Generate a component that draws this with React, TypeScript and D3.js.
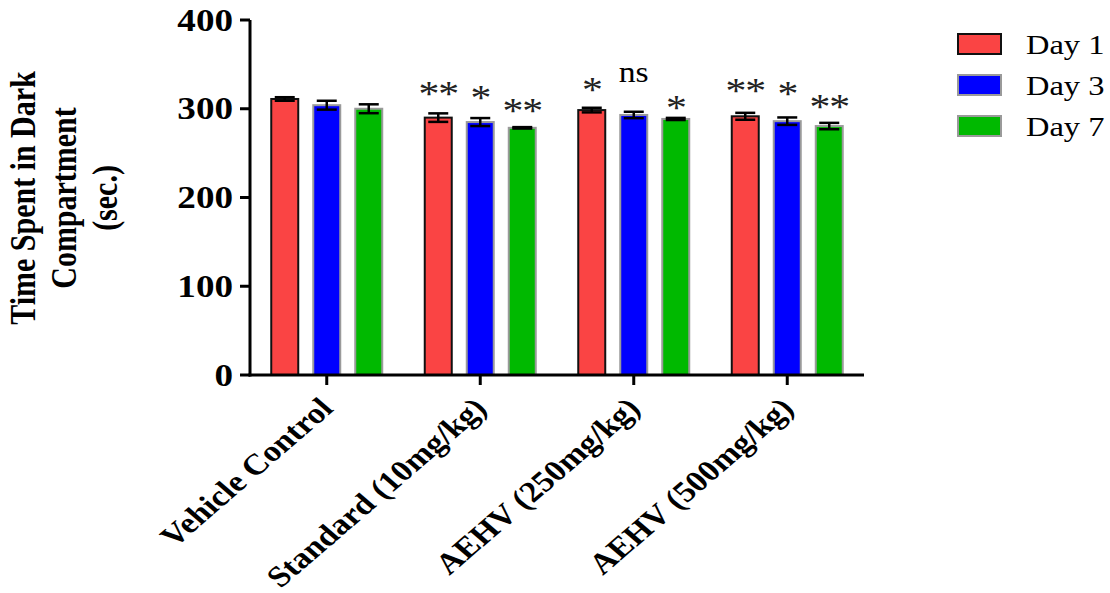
import React from "react";
import * as d3 from "d3";

const categories = ["Vehicle Control", "Standard (10mg/kg)", "AEHV (250mg/kg)", "AEHV (500mg/kg)"];
const days = ["Day 1", "Day 3", "Day 7"];
const day1 = [311, 290, 298.5, 291.5];
const day3 = [304, 285, 293, 286];
const day7 = [300, 278.5, 288.5, 280.5];
const err1 = [2, 4.8, 2.6, 3.9];
const err3 = [5, 4.5, 3.6, 4.2];
const err7 = [5, 0.8, 1.2, 3.6];
// significance labels per category / day, with the value level where each is printed
const sigLabels = [
  ["", "", ""],
  ["**", "*", "**"],
  ["*", "ns", "*"],
  ["**", "*", "**"],
];
const sigLevels = [
  [0, 0, 0],
  [324.5, 320, 305],
  [328.5, 338, 308.5],
  [327.5, 324.5, 310],
];
const yTicks = [0, 100, 200, 300, 400];

const values = [day1, day3, day7];
const errors = [err1, err3, err7];
const fills = ["#FA4444", "#0000FF", "#00B900"];
const strokes = ["#111111", "#9a9a9a", "#9a9a9a"];

const SX = 1.16; // horizontal stretch of the original picture's text
const serif = "'Liberation Serif', 'Times New Roman', serif";

export default function App() {
  const W = 1110, H = 593;
  const x = d3.scaleBand<string>().domain(categories).range([250, 864]).padding(0);
  const inner = d3.scalePoint<string>().domain(days).range([-42, 42]);
  const y = d3.scaleLinear().domain([0, 400]).range([375, 20]);
  const barW = 27;
  const cap = 10;

  const st = (tx: number, ty: number, extra = "") => `translate(${tx},${ty}) scale(${SX},1) ${extra}`;

  return (
    <svg width={W} height={H} style={{ position: "absolute", left: 0, top: 0, background: "#fff" }}>
      {/* bars */}
      {categories.map((c, ci) =>
        days.map((dname, di) => {
          const cx = (x(c) as number) + x.bandwidth() / 2 + (inner(dname) as number);
          const v = values[di][ci];
          return (
            <rect key={`b${ci}-${di}`} x={cx - barW / 2} y={y(v)} width={barW} height={y(0) - y(v)}
              fill={fills[di]} stroke={strokes[di]} strokeWidth={2} />
          );
        })
      )}
      {/* error bars */}
      {categories.map((c, ci) =>
        days.map((dname, di) => {
          const cx = (x(c) as number) + x.bandwidth() / 2 + (inner(dname) as number);
          const v = values[di][ci];
          const e = errors[di][ci];
          return (
            <g key={`e${ci}-${di}`} stroke="#000" strokeWidth={2.5}>
              <line x1={cx} x2={cx} y1={y(v + e)} y2={y(v - e)} />
              <line x1={cx - cap} x2={cx + cap} y1={y(v + e)} y2={y(v + e)} />
              <line x1={cx - cap} x2={cx + cap} y1={y(v - e)} y2={y(v - e)} />
            </g>
          );
        })
      )}
      {/* significance */}
      {categories.map((c, ci) =>
        days.map((dname, di) => {
          const lab = sigLabels[ci][di];
          if (!lab) return null;
          const cx = (x(c) as number) + x.bandwidth() / 2 + (inner(dname) as number);
          const ly = y(sigLevels[ci][di]);
          const isNs = lab === "ns";
          return (
            <text key={`s${ci}-${di}`} transform={st(cx, ly + (isNs ? 7 : 19))} textAnchor="middle"
              fontFamily={serif} fontSize={isNs ? 29 : 36} fill={isNs ? "#000" : "#222"}
              letterSpacing={isNs ? 0 : -1}>
              {lab}
            </text>
          );
        })
      )}
      {/* y axis */}
      <line x1={250} x2={250} y1={y(400)} y2={y(0) + 1.5} stroke="#000" strokeWidth={3} />
      {yTicks.map((t) => (
        <g key={`yt${t}`}>
          <line x1={240} x2={250} y1={y(t)} y2={y(t)} stroke="#000" strokeWidth={3} />
          <text transform={st(233, y(t) + 10.5)} textAnchor="end" fontFamily={serif} fontWeight="bold" fontSize={32} fill="#000">
            {t}
          </text>
        </g>
      ))}
      {/* x axis */}
      <line x1={248.5} x2={864} y1={y(0)} y2={y(0)} stroke="#000" strokeWidth={3} />
      {categories.map((c) => {
        const cx = (x(c) as number) + x.bandwidth() / 2;
        return (
          <g key={`xt${c}`}>
            <line x1={cx} x2={cx} y1={y(0)} y2={y(0) + 10} stroke="#000" strokeWidth={3} />
            <text transform={st(cx + 8, y(0) + 35, "rotate(-45)")} textAnchor="end" fontFamily={serif}
              fontWeight="bold" fontSize={29.5} fill="#000">
              {c}
            </text>
          </g>
        );
      })}
      {/* y axis title */}
      {["Time Spent in Dark", "Compartment", "(sec.)"].map((line, i) => (
        <text key={`yl${i}`} transform={st(35 + i * 41, 198, "rotate(-90)")} textAnchor="middle"
          fontFamily={serif} fontWeight="bold" fontSize={30} fill="#000">
          {line}
        </text>
      ))}
      {/* legend */}
      {days.map((dname, di) => (
        <g key={`lg${di}`}>
          <rect x={958} y={34 + di * 41} width={43} height={20} fill={fills[di]} stroke={strokes[di]} strokeWidth={2} />
          <text transform={st(1026, 54 + di * 41)} fontFamily={serif} fontSize={28} fill="#000">
            {dname}
          </text>
        </g>
      ))}
    </svg>
  );
}
